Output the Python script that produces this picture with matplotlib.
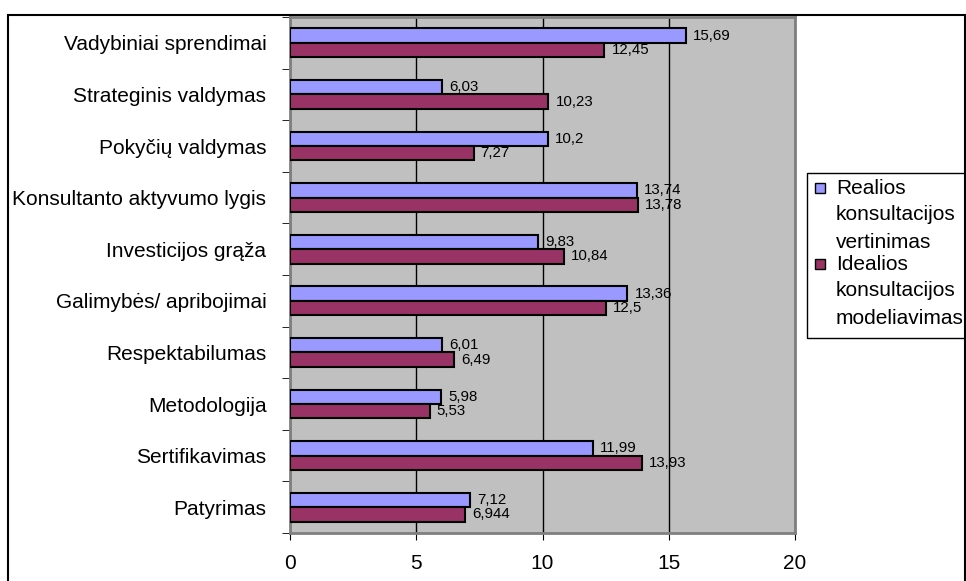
import matplotlib
matplotlib.use("Agg")
import matplotlib.pyplot as plt
import numpy as np
from matplotlib.patches import Rectangle

# kategorijos iš viršaus į apačią
categories = [
    "Vadybiniai sprendimai",
    "Strateginis valdymas",
    "Pokyčių valdymas",
    "Konsultanto aktyvumo lygis",
    "Investicijos grąža",
    "Galimybės/ apribojimai",
    "Respektabilumas",
    "Metodologija",
    "Sertifikavimas",
    "Patyrimas",
]
realios = [15.69, 6.03, 10.2, 13.74, 9.83, 13.36, 6.01, 5.98, 11.99, 7.12]
idealios = [12.45, 10.23, 7.27, 13.78, 10.84, 12.5, 6.49, 5.53, 13.93, 6.944]
series_names = [
    ["Realios", "konsultacijos", "vertinimas"],
    ["Idealios", "konsultacijos", "modeliavimas"],
]
x_ticks = [0, 5, 10, 15, 20]

BLUE = "#9999FF"
PLUM = "#993366"
W, H = 966, 581

plt.rcParams["font.family"] = ["Liberation Sans", "DejaVu Sans"]


def px(x, y):
    return x / W, 1 - y / H


fig = plt.figure(figsize=(W / 100, H / 100), dpi=100)

# išorinis rėmelis
fig.patches.append(Rectangle(px(8, 600), (965 - 8) / W, (600 - 15) / H,
                             transform=fig.transFigure, fill=False,
                             edgecolor="black", linewidth=1.5))

x0, y0 = px(290, 533)
x1, y1 = px(795, 17)
ax = fig.add_axes([x0, y0, x1 - x0, y1 - y0])
ax.set_facecolor("#C0C0C0")

n = len(categories)
pos = np.arange(n)[::-1]
bh = 0.28
b1 = ax.barh(pos + bh / 2, realios, height=bh, color=BLUE, edgecolor="black", linewidth=1.5, zorder=3)
b2 = ax.barh(pos - bh / 2, idealios, height=bh, color=PLUM, edgecolor="black", linewidth=1.5, zorder=3)

for bars, vals in ((b1, realios), (b2, idealios)):
    for bar, v in zip(bars, vals):
        ax.text(v + 0.28, bar.get_y() + bar.get_height() / 2, str(v).replace(".", ","),
                va="center", ha="left", fontsize=10.8, zorder=4)

ax.set_xlim(0, 20)
ax.set_ylim(-0.5, n - 0.5)
ax.set_xticks(x_ticks)
ax.set_xticklabels([str(t) for t in x_ticks], fontsize=15)
ax.tick_params(axis="x", direction="out", length=5, pad=10)

ax.set_yticks(pos)
ax.set_yticklabels(categories, fontsize=15)
ax.set_yticks(np.arange(n + 1) - 0.5, minor=True)
ax.tick_params(axis="y", which="major", length=0, pad=17)
ax.tick_params(axis="y", which="minor", direction="out", length=6)

ax.grid(axis="x", color="black", linewidth=1, zorder=1)
ax.set_axisbelow(True)
for s in ax.spines.values():
    s.set_color("#808080")
    s.set_linewidth(2)

# legenda
lx, ly = px(807, 338)
fig.patches.append(Rectangle((lx, ly), (990 - 807) / W, (338 - 173) / H,
                             transform=fig.transFigure, fill=False,
                             edgecolor="black", linewidth=1))
line_y = [[188, 215, 242], [264, 291, 318]]
for color, lines, ys in zip((BLUE, PLUM), series_names, line_y):
    mx, my = px(815, ys[0] + 5)
    fig.patches.append(Rectangle((mx, my), 10 / W, 10 / H, transform=fig.transFigure,
                                 facecolor=color, edgecolor="black", linewidth=1))
    for txt, yy in zip(lines, ys):
        fig.text(*px(836, yy), txt, fontsize=15, va="center", ha="left")

fig.savefig("out.png", dpi=100)
